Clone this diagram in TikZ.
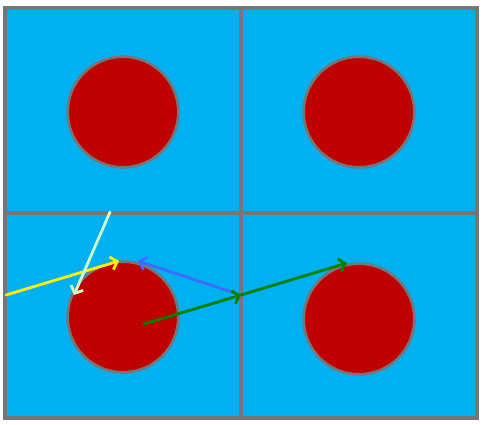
\documentclass[tikz,border=0pt]{standalone}
\usetikzlibrary{arrows.meta}
\definecolor{cellblue}{HTML}{00B0F0}
\definecolor{discred}{HTML}{C00000}
\definecolor{edgegray}{HTML}{767676}
\definecolor{paleray}{HTML}{CCFFCC}
\definecolor{bluray}{HTML}{3F6BFF}
\definecolor{grnray}{HTML}{008000}
\begin{document}
\begin{tikzpicture}[x=0.75pt,y=-0.75pt,
  cell/.style={fill=cellblue,draw=edgegray,line width=2.4pt},
  disc/.style={circle,fill=discred,draw=edgegray,line width=2pt,
               minimum size=83pt,inner sep=0pt},
  ray/.style={line width=2.1pt,line cap=round,
              -{Straight Barb[length=4.5pt,width=10pt,line width=2.1pt]}}]
  \useasboundingbox (0,0) rectangle (487,425);
  % The four cells of the lattice, each with one disc.
  \foreach \x/\y in {5/8,241/8,5/213,241/213}
    \draw[cell] (\x,\y) rectangle ++(236,205);
  \node[disc] (dtl) at (123,112) {};
  \node[disc] (dtr) at (359,112) {};
  \node[disc] (dbl) at (123,317) {};
  \node[disc] (dbr) at (359,319) {};

  % Ray end points.
  \coordinate (yin) at (6,295);
  \coordinate (yhit) at (119,261);
  \coordinate (pin) at (110,212);
  \coordinate (phit) at (74,295);
  \coordinate (wall) at (241,295);
  \coordinate (bhit) at (138,261);
  \coordinate (gin) at (144,324);
  \coordinate (ghit) at (347,263);

  \draw[ray,yellow] (yin) -- (yhit);
  \draw[ray,paleray] (pin) -- (phit);
  \draw[ray,bluray] (wall) -- (bhit);
  \draw[ray,grnray] (gin) -- (wall);
  \draw[ray,grnray] (wall) -- (ghit);
\end{tikzpicture}
\end{document}
